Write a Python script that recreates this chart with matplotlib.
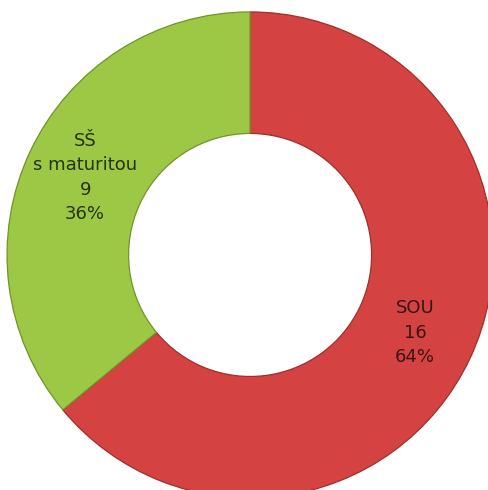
import matplotlib.pyplot as plt

# Data
kategorie = ['SOU', 'SŠ\ns maturitou']
pocty = [16, 9]
procenta = ['64%', '36%']
barvy = ['#D44341', '#9DC846']
okraje = ['#A02E2C', '#6F9428']
barvy_textu = ['#3A1414', '#26330C']

labels = [f'{k}\n{p}\n{pr}' for k, p, pr in zip(kategorie, pocty, procenta)]

fig = plt.figure(figsize=(4.88, 4.90), dpi=100)
ax = fig.add_axes([0, 0, 1, 1])

wedges, texts = ax.pie(pocty, labels=labels, colors=barvy, startangle=90,
                       counterclock=False, labeldistance=0.75,
                       wedgeprops=dict(width=0.5, linewidth=0.9))

for w, ec in zip(wedges, okraje):
    w.set_edgecolor(ec)

for t, c in zip(texts, barvy_textu):
    t.set_horizontalalignment('center')
    t.set_verticalalignment('center')
    t.set_multialignment('center')
    t.set_fontsize(13)
    t.set_color(c)
    t.set_linespacing(1.45)

ax.set_xlim(-1.029, 0.979)
ax.set_ylim(-0.967, 1.049)
ax.set_aspect('equal')
ax.axis('off')

fig.savefig('out.png', dpi=100)
